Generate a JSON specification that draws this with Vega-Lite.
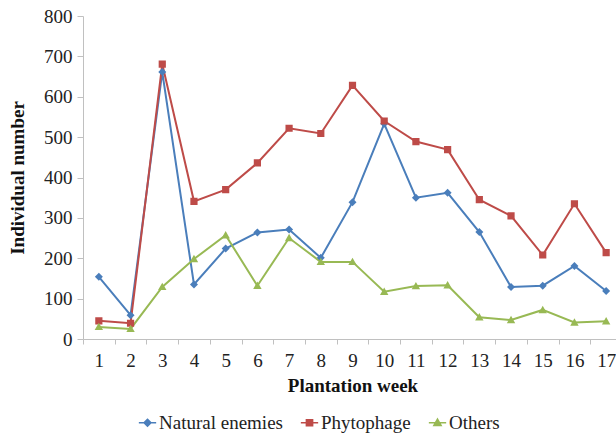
{
  "$schema": "https://vega.github.io/schema/vega-lite/v6.json",
  "autosize": {"type": "none"},
  "padding": {"left": 83, "top": 16, "right": 0, "bottom": 96},
  "width": 533,
  "height": 323,
  "background": "white",
  "config": {
    "view": {"stroke": null},
    "font": "Liberation Serif",
    "axis": {"grid": false, "domainColor": "#c0c0c0", "tickColor": "#c0c0c0", "labelColor": "#222", "titleColor": "#111", "labelFont": "Liberation Serif", "titleFont": "Liberation Serif", "labelFontSize": 19, "titleFontSize": 19, "titleFontWeight": "bold"},
    "legend": {"labelFont": "Liberation Serif", "labelFontSize": 19, "labelColor": "#222", "symbolSize": 300, "columnPadding": 14, "labelOffset": 2, "padding": 0}
  },
  "data": {"values": [
    {"week": 1, "series": "Natural enemies", "value": 154},
    {"week": 2, "series": "Natural enemies", "value": 59},
    {"week": 3, "series": "Natural enemies", "value": 661},
    {"week": 4, "series": "Natural enemies", "value": 135},
    {"week": 5, "series": "Natural enemies", "value": 224},
    {"week": 6, "series": "Natural enemies", "value": 264},
    {"week": 7, "series": "Natural enemies", "value": 271},
    {"week": 8, "series": "Natural enemies", "value": 201},
    {"week": 9, "series": "Natural enemies", "value": 339},
    {"week": 10, "series": "Natural enemies", "value": 533},
    {"week": 11, "series": "Natural enemies", "value": 350},
    {"week": 12, "series": "Natural enemies", "value": 362},
    {"week": 13, "series": "Natural enemies", "value": 265},
    {"week": 14, "series": "Natural enemies", "value": 129},
    {"week": 15, "series": "Natural enemies", "value": 132},
    {"week": 16, "series": "Natural enemies", "value": 181},
    {"week": 17, "series": "Natural enemies", "value": 119},
    {"week": 1, "series": "Phytophage", "value": 45},
    {"week": 2, "series": "Phytophage", "value": 39},
    {"week": 3, "series": "Phytophage", "value": 681},
    {"week": 4, "series": "Phytophage", "value": 341},
    {"week": 5, "series": "Phytophage", "value": 370},
    {"week": 6, "series": "Phytophage", "value": 436},
    {"week": 7, "series": "Phytophage", "value": 522},
    {"week": 8, "series": "Phytophage", "value": 509},
    {"week": 9, "series": "Phytophage", "value": 628},
    {"week": 10, "series": "Phytophage", "value": 540},
    {"week": 11, "series": "Phytophage", "value": 489},
    {"week": 12, "series": "Phytophage", "value": 469},
    {"week": 13, "series": "Phytophage", "value": 345},
    {"week": 14, "series": "Phytophage", "value": 305},
    {"week": 15, "series": "Phytophage", "value": 208},
    {"week": 16, "series": "Phytophage", "value": 335},
    {"week": 17, "series": "Phytophage", "value": 214},
    {"week": 1, "series": "Others", "value": 30},
    {"week": 2, "series": "Others", "value": 25},
    {"week": 3, "series": "Others", "value": 129},
    {"week": 4, "series": "Others", "value": 198},
    {"week": 5, "series": "Others", "value": 257},
    {"week": 6, "series": "Others", "value": 132},
    {"week": 7, "series": "Others", "value": 250},
    {"week": 8, "series": "Others", "value": 191},
    {"week": 9, "series": "Others", "value": 191},
    {"week": 10, "series": "Others", "value": 117},
    {"week": 11, "series": "Others", "value": 131},
    {"week": 12, "series": "Others", "value": 133},
    {"week": 13, "series": "Others", "value": 54},
    {"week": 14, "series": "Others", "value": 47},
    {"week": 15, "series": "Others", "value": 72},
    {"week": 16, "series": "Others", "value": 41},
    {"week": 17, "series": "Others", "value": 44}
  ]},
  "encoding": {
    "x": {"field": "week", "type": "ordinal", "sort": "ascending",
      "scale": {"type": "band", "range": [0, 539], "paddingInner": 0, "paddingOuter": 0},
      "axis": {"title": "Plantation week", "labelAngle": 0, "tickBand": "extent", "tickSize": 5, "labelPadding": 7, "titlePadding": 6}},
    "y": {"field": "value", "type": "quantitative",
      "scale": {"domain": [0, 800], "nice": false},
      "axis": {"title": "Individual number", "values": [0,100,200,300,400,500,600,700,800], "tickSize": 6, "labelPadding": 5, "titlePadding": 16}},
    "color": {"field": "series", "type": "nominal",
      "scale": {"domain": ["Natural enemies", "Phytophage", "Others"], "range": ["#4a7ebb", "#be4b48", "#98b954"]},
      "legend": {"title": null, "orient": "none", "direction": "horizontal", "legendX": 55, "legendY": 397,
        "labelFont": "Liberation Serif", "labelFontSize": 19, "labelColor": "#222",
        "encode": {"symbols": {"update": {"stroke": {"scale": "color", "field": "value"}, "strokeWidth": {"value": 1.5}}},
                   "labels": {"update": {"font": {"value": "Liberation Serif"}, "fontSize": {"value": 19}}}}}}
  },
  "layer": [
    {"mark": {"type": "line", "strokeWidth": 2}, "encoding": {"detail": {"field": "series"}}},
    {"mark": {"type": "point", "filled": true, "opacity": 1, "size": 400, "strokeWidth": 0},
      "encoding": {
        "shape": {"field": "series", "type": "nominal",
          "scale": {"domain": ["Natural enemies", "Phytophage", "Others"],
            "range": ["M-1,0H1M0,-0.4L0.4,0L0,0.4L-0.4,0Z", "M-1,0H1M-0.36,-0.36H0.36V0.36H-0.36Z", "M-1,0H1M0,-0.42L0.42,0.32H-0.42Z"]},
          "legend": {"title": null, "orient": "none", "direction": "horizontal", "legendX": 55, "legendY": 397,
            "labelFont": "Liberation Serif", "labelFontSize": 19, "labelColor": "#222",
            "encode": {"symbols": {"update": {"stroke": {"scale": "color", "field": "value"}, "strokeWidth": {"value": 1.5}}},
                       "labels": {"update": {"font": {"value": "Liberation Serif"}, "fontSize": {"value": 19}}}}}}
      }}
  ]
}
